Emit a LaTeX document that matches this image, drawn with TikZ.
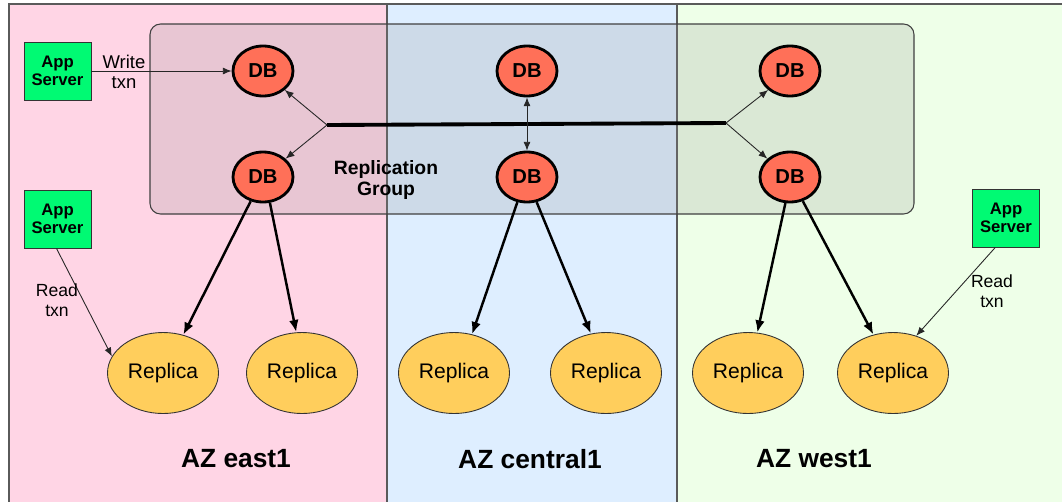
\documentclass[tikz,border=0pt]{standalone}
\usepackage{fontspec}
\setmainfont{Liberation Sans}
\usetikzlibrary{shapes.geometric,arrows.meta}
\definecolor{zpink}{RGB}{255,213,229}
\definecolor{zblue}{RGB}{222,238,255}
\definecolor{zgreen}{RGB}{238,255,232}
\definecolor{dbred}{RGB}{255,112,88}
\definecolor{repy}{RGB}{255,206,92}
\definecolor{appg}{RGB}{0,250,115}
\definecolor{frame}{RGB}{90,90,90}
\tikzset{
  dbnode/.style={ellipse,draw=black,line width=1.6pt,fill=dbred,minimum width=1.2cm,minimum height=1.0cm,inner sep=0pt,font=\fontsize{11.5}{13}\selectfont\bfseries},
  repnode/.style={ellipse,draw=black!80,line width=0.5pt,fill=repy,minimum width=2.22cm,minimum height=1.62cm,inner sep=0pt,font=\fontsize{12}{14}\selectfont},
  appnode/.style={rectangle,draw=black!80,line width=0.5pt,fill=appg,minimum width=1.34cm,minimum height=1.16cm,inner sep=0pt,align=center,font=\fontsize{9.5}{10.5}\selectfont\bfseries},
  thinarrow/.style={-{Latex[length=5pt,width=4pt]},line width=0.5pt,draw=black!85},
  thickarrow/.style={-{Latex[length=7pt,width=5.5pt]},line width=1.4pt},
  lbl/.style={align=center,inner sep=0pt,font=\fontsize{10.5}{11.5}\selectfont},
  azlbl/.style={inner sep=0pt,font=\fontsize{15}{17}\selectfont\bfseries},
}
\begin{document}
\begin{tikzpicture}[x=0.02cm,y=-0.02cm]
\useasboundingbox (0,0) rectangle (1062,501);
% zones
\fill[zpink] (9,4) rectangle (387,505);
\fill[zblue] (387,4) rectangle (677,505);
\fill[zgreen] (677,4) rectangle (1065,505);
\draw[frame,line width=0.7pt] (9,505) -- (9,4) -- (1065,4);
\draw[frame,line width=0.7pt] (387,4) -- (387,505);
\draw[frame,line width=0.7pt] (677,4) -- (677,505);
% replication group
\draw[black!75,line width=0.6pt,rounded corners=6pt,fill=black!45,fill opacity=0.2] (150,24) rectangle (914,214);
\node[font=\fontsize{11}{11.5}\selectfont\bfseries,align=center,inner sep=0pt] (rg) at (386,180) {Replication\\Group};
% DB nodes
\node[dbnode] (db1) at (263,71) {DB};
\node[dbnode] (db2) at (527,71) {DB};
\node[dbnode] (db3) at (790,71) {DB};
\node[dbnode] (db4) at (263,177) {DB};
\node[dbnode] (db5) at (527,177) {DB};
\node[dbnode] (db6) at (790,177) {DB};
% replicas
\node[repnode] (r1) at (163,373) {Replica};
\node[repnode] (r2) at (302,373) {Replica};
\node[repnode] (r3) at (454,373) {Replica};
\node[repnode] (r4) at (606,373) {Replica};
\node[repnode] (r5) at (748,373) {Replica};
\node[repnode] (r6) at (893,373) {Replica};
% app servers
\node[appnode] (a1) at (57.5,71) {App\\Server};
\node[appnode] (a2) at (57.5,219) {App\\Server};
\node[appnode] (a3) at (1006,218) {App\\Server};
% replication backbone
\coordinate (jl) at (327,125);
\coordinate (jr) at (726,123);
\draw[line width=2.2pt] (jl) -- (jr);
\draw[thinarrow] (jl) -- (db1.-41);
\draw[thinarrow] (jl) -- (db4.39);
\draw[thinarrow] (jr) -- (db3.-139);
\draw[thinarrow] (jr) -- (db6.141);
\draw[thinarrow,{Latex[length=5pt,width=4pt]}-{Latex[length=5pt,width=4pt]}] (db2.south) -- (db5.north);
% write txn
\draw[thinarrow] (a1.east) -- (db1.west);
\node[lbl] (wl) at (124,72) {Write\\txn};
% read txn
\draw[thinarrow] (a2.-92) -- (r1.162);
\node[lbl,font=\fontsize{10}{11.5}\selectfont] (rl1) at (57,300) {Read\\txn};
\draw[thinarrow] (a3.-110) -- (r6.58);
\node[lbl,font=\fontsize{10}{11.5}\selectfont] (rl2) at (992,291) {Read\\txn};
% DB to replicas
\draw[thickarrow] (db4.-117) -- (r1.62);
\draw[thickarrow] (db4.-75) -- (r2.98);
\draw[thickarrow] (db5.-111) -- (r3.65);
\draw[thickarrow] (db5.-69) -- (r4.111);
\draw[thickarrow] (db6.-100) -- (r5.77);
\draw[thickarrow] (db6.-62) -- (r6.117);
% AZ labels
\node[azlbl] (az1) at (236,459) {AZ east1};
\node[azlbl] (az2) at (530,459) {AZ central1};
\node[azlbl] (az3) at (814,459) {AZ west1};
\end{tikzpicture}
\end{document}
